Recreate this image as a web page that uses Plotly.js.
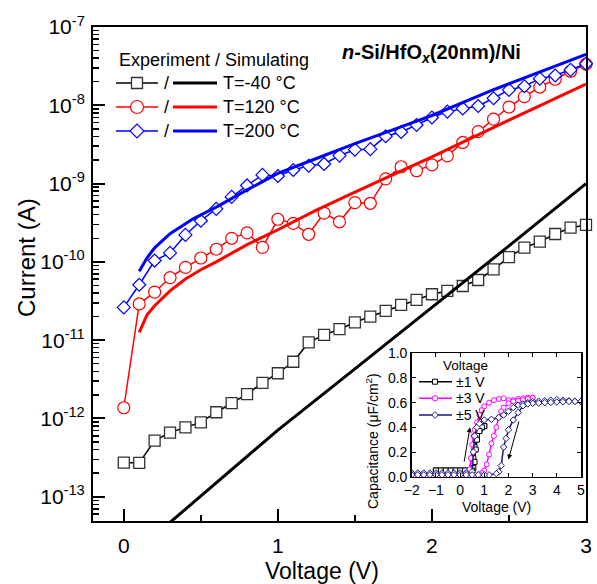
<!DOCTYPE html>
<html><head><meta charset="utf-8">
<script src="https://cdn.plot.ly/plotly-3.0.1.min.js"></script>
<style>html,body{margin:0;padding:0;background:#fff}#chart{width:597px;height:584px}</style>
</head><body><div id="chart"></div>
<script>
// ---------------- main chart data ----------------
const voltage = [0,0.1,0.2,0.3,0.4,0.5,0.6,0.7,0.8,0.9,1.0,1.1,1.2,1.3,1.4,1.5,1.6,1.7,1.8,1.9,2.0,2.1,2.2,2.3,2.4,2.5,2.6,2.7,2.8,2.9,3.0];
const expM40 = [2.73e-13,2.7e-13,5.2e-13,6.6e-13,7.7e-13,8.9e-13,1.2e-12,1.57e-12,2.05e-12,2.85e-12,3.78e-12,5.3e-12,9.35e-12,1.17e-11,1.38e-11,1.69e-11,2.0e-11,2.36e-11,2.82e-11,3.26e-11,3.86e-11,4.25e-11,4.92e-11,5.87e-11,8.04e-11,1.15e-10,1.52e-10,1.81e-10,2.27e-10,2.73e-10,2.96e-10];
const exp120 = [1.37e-12,2.9e-11,4.1e-11,6.3e-11,8.5e-11,1.12e-10,1.45e-10,2.0e-10,2.35e-10,1.53e-10,3.5e-10,3.1e-10,2.25e-10,4.2e-10,3.25e-10,5.7e-10,5.6e-10,1.15e-9,1.64e-9,1.46e-9,1.73e-9,2.26e-9,3.35e-9,4.6e-9,6.65e-9,9.5e-9,1.29e-8,1.71e-8,2.15e-8,2.72e-8,3.35e-8];
const exp200 = [2.62e-11,5.1e-11,1.04e-10,1.3e-10,2.21e-10,3.35e-10,4.76e-10,6.75e-10,9.46e-10,1.29e-9,1.25e-9,1.49e-9,1.69e-9,1.78e-9,2.28e-9,2.71e-9,2.75e-9,4.02e-9,4.56e-9,5.6e-9,6.98e-9,8.3e-9,9.1e-9,9.8e-9,1.23e-8,1.57e-8,1.75e-8,2.19e-8,2.4e-8,2.83e-8,3.39e-8];

const simM40V = [0.3,1.0,1.5,2.0,2.5,3.0];
const simM40I = [4.7e-14,7.1e-13,4.3e-12,2.6e-11,1.6e-10,1.0e-9];
const sim120V = [0.1,0.15,0.2,0.3,0.4,0.5,0.6,0.8,1.0,1.25,1.5,1.75,2.0,2.5,3.0];
const sim120I = [1.26e-11,2.09e-11,2.75e-11,4.27e-11,6.03e-11,7.94e-11,1.0e-10,1.66e-10,2.57e-10,4.57e-10,7.76e-10,1.29e-9,2.19e-9,6.46e-9,1.86e-8];
const sim200V = [0.1,0.15,0.2,0.3,0.45,0.6,0.8,1.0,1.25,1.5,1.75,2.0,2.4,2.7,3.0];
const sim200I = [7.59e-11,1.12e-10,1.51e-10,2.29e-10,3.55e-10,5.01e-10,8.3e-10,1.35e-9,2.09e-9,3.24e-9,4.9e-9,7.41e-9,1.58e-8,2.63e-8,4.47e-8];

const legendLabels = ['T=-40 °C','T=120 °C','T=200 °C'];
const xTickVals = [0,1,2,3];
const yTickText = ['10<sup>-13</sup>','10<sup>-12</sup>','10<sup>-11</sup>','10<sup>-10</sup>','10<sup>-9</sup>','10<sup>-8</sup>','10<sup>-7</sup>'];

// ---------------- inset data (C-V hysteresis) ----------------
const cv1V = [-1,-0.8,-0.6,-0.4,-0.2,0,0.2,0.4,0.5,0.55,0.6,0.65,0.7,0.8,0.9,1.0,1.0,0.9,0.8,0.7,0.65,0.6,0.55,0.5,0.4,0.2,0,-0.2,-0.4,-0.6,-0.8,-1];
const cv1C = [0.05,0.05,0.05,0.05,0.05,0.05,0.05,0.05,0.07,0.15,0.24,0.30,0.34,0.38,0.40,0.41,0.41,0.40,0.37,0.30,0.22,0.12,0.07,0.05,0.05,0.05,0.05,0.05,0.05,0.05,0.05,0.05];
const cv3V = [-2,-1.75,-1.5,-1.25,-1,-0.75,-0.5,-0.25,0,0.25,0.4,0.45,0.5,0.55,0.6,0.7,0.8,0.9,1.0,1.2,1.4,1.6,1.8,2.0,2.2,2.4,2.6,2.8,3.0,3.0,2.8,2.6,2.4,2.2,2.0,1.8,1.7,1.6,1.5,1.4,1.3,1.2,1.1,1.0,0.9,0.8,0.6,0.4,0.2,0,-0.25,-0.5,-0.75,-1,-1.25,-1.5,-1.75,-2];
const cv3C = [0.02,0.02,0.02,0.02,0.02,0.02,0.02,0.02,0.025,0.03,0.06,0.15,0.26,0.33,0.38,0.44,0.50,0.54,0.57,0.60,0.62,0.63,0.635,0.62,0.62,0.63,0.635,0.64,0.64,0.64,0.63,0.62,0.615,0.61,0.595,0.56,0.53,0.48,0.40,0.33,0.27,0.18,0.10,0.05,0.03,0.02,0.015,0.015,0.015,0.015,0.015,0.015,0.015,0.015,0.015,0.015,0.015,0.015];
const cv5V = [-2,-1.75,-1.5,-1.25,-1,-0.75,-0.5,-0.25,0,0.25,0.5,0.55,0.6,0.7,0.8,1.0,1.3,1.6,1.8,2.0,2.2,2.4,2.6,2.8,3.0,3.25,3.5,3.75,4.0,4.25,4.5,4.75,5.0,5.0,4.75,4.5,4.25,4.0,3.75,3.5,3.25,3.0,2.8,2.6,2.4,2.2,2.0,1.9,1.8,1.7,1.6,1.5,1.2,1.0,0.75,0.5,0.25,0,-0.25,-0.5,-0.75,-1,-1.25,-1.5,-1.75,-2];
const cv5C = [0.03,0.03,0.03,0.03,0.03,0.03,0.03,0.03,0.03,0.03,0.04,0.2,0.33,0.40,0.43,0.46,0.465,0.48,0.50,0.53,0.56,0.58,0.59,0.60,0.61,0.612,0.615,0.62,0.625,0.62,0.615,0.612,0.61,0.61,0.61,0.61,0.607,0.605,0.602,0.60,0.597,0.595,0.59,0.575,0.52,0.46,0.38,0.31,0.24,0.09,0.04,0.025,0.015,0.015,0.015,0.015,0.015,0.015,0.015,0.015,0.015,0.015,0.015,0.015,0.015,0.015];
const insetLabels = ['±1 V','±3 V','±5 V'];

// ---------------- layout helpers (pixel -> paper) ----------------
const L=93, R=586, T=27, B=521;
const fx = p => (p-L)/(R-L);
const fy = p => (B-p)/(B-T);
const FONT = 'Liberation Sans, Arial, sans-serif';
const BLUE='#0000ff', RED='#ff0000', BLACK='#000000';
const MAG='#ff00ff', NAVY='#1a1a80';

const traces = [
  {x:voltage, y:expM40, mode:'lines+markers', line:{color:BLACK,width:1.5},
   marker:{symbol:'square',size:11,color:'#fff',line:{color:'#333',width:1.3}}, cliponaxis:false},
  {x:voltage, y:exp120, mode:'lines+markers', line:{color:RED,width:1.5},
   marker:{symbol:'circle',size:12,color:'#fff',line:{color:RED,width:1.2}}, cliponaxis:false},
  {x:voltage, y:exp200, mode:'lines+markers', line:{color:BLUE,width:1.5},
   marker:{symbol:'diamond',size:10,color:'#fff',line:{color:BLUE,width:1.2}}, cliponaxis:false},
  {x:simM40V, y:simM40I, mode:'lines', line:{color:BLACK,width:3}},
  {x:sim120V, y:sim120I, mode:'lines', line:{color:RED,width:3}},
  {x:sim200V, y:sim200I, mode:'lines', line:{color:BLUE,width:3}},
  // inset
  {x:cv1V, y:cv1C, xaxis:'x2', yaxis:'y2', mode:'lines+markers', line:{color:BLACK,width:1.5},
   marker:{symbol:'square',size:5,color:'#fff',line:{color:BLACK,width:1}}},
  {x:cv3V, y:cv3C, xaxis:'x2', yaxis:'y2', mode:'lines+markers', line:{color:MAG,width:1.5},
   marker:{symbol:'circle',size:5,color:'#fff',line:{color:MAG,width:1}}},
  {x:cv5V, y:cv5C, xaxis:'x2', yaxis:'y2', mode:'lines+markers', line:{color:NAVY,width:1.5},
   marker:{symbol:'diamond',size:5,color:'#fff',line:{color:NAVY,width:1}}}
];

// minor ticks for log axis
const minorY = [];
for (let d=-14; d<=-8; d++) for (let k=2;k<=9;k++) minorY.push(k*Math.pow(10,d));
const majorY = [];
for (let d=-13; d<=-7; d++) majorY.push(Math.pow(10,d));

const shapes = [];
const annotations = [];

// main legend
const legColors=[BLACK,RED,BLUE];
const legY=[83,107,131];
annotations.push({xref:'paper',yref:'paper',x:fx(117),y:fy(60),xanchor:'left',yanchor:'middle',
  text:'Experiment / Simulating',showarrow:false,font:{family:FONT,size:18,color:'#000'}});
legY.forEach((py,i)=>{
  const c=legColors[i];
  shapes.push({type:'line',xref:'paper',yref:'paper',x0:fx(116),x1:fx(158),y0:fy(py),y1:fy(py),line:{color:c,width:1.5}});
  const mx=137;
  if(i===0) shapes.push({type:'rect',xref:'paper',yref:'paper',x0:fx(mx-5.5),x1:fx(mx+5.5),y0:fy(py+5.5),y1:fy(py-5.5),fillcolor:'#fff',line:{color:'#333',width:1.3}});
  if(i===1) shapes.push({type:'circle',xref:'paper',yref:'paper',x0:fx(mx-6.5),x1:fx(mx+6.5),y0:fy(py+6.5),y1:fy(py-6.5),fillcolor:'#fff',line:{color:c,width:1.2}});
  if(i===2) shapes.push({type:'path',xref:'paper',yref:'paper',
    path:`M ${fx(mx-7)} ${fy(py)} L ${fx(mx)} ${fy(py-7)} L ${fx(mx+7)} ${fy(py)} L ${fx(mx)} ${fy(py+7)} Z`,
    fillcolor:'#fff',line:{color:c,width:1.2}});
  annotations.push({xref:'paper',yref:'paper',x:fx(166),y:fy(py),xanchor:'center',yanchor:'middle',text:'/',showarrow:false,font:{family:FONT,size:18,color:'#000'}});
  shapes.push({type:'line',xref:'paper',yref:'paper',x0:fx(173),x1:fx(217),y0:fy(py),y1:fy(py),line:{color:c,width:3}});
  annotations.push({xref:'paper',yref:'paper',x:fx(221),y:fy(py),xanchor:'left',yanchor:'middle',text:legendLabels[i],showarrow:false,font:{family:FONT,size:18,color:'#000'}});
});
// title
annotations.push({xref:'paper',yref:'paper',x:fx(431),y:fy(53),xanchor:'center',yanchor:'middle',
  text:'<b><i>n</i>-Si/HfO<sub><i>x</i></sub>(20nm)/Ni</b>',showarrow:false,font:{family:FONT,size:20,color:'#000'}});
// axis titles
annotations.push({xref:'paper',yref:'paper',x:fx(26),y:fy(258),xanchor:'center',yanchor:'middle',textangle:-90,
  text:'Current (A)',showarrow:false,font:{family:FONT,size:24,color:'#000'}});
annotations.push({xref:'paper',yref:'paper',x:fx(322),y:fy(571),xanchor:'center',yanchor:'middle',
  text:'Voltage (V)',showarrow:false,font:{family:FONT,size:23,color:'#000'}});

// inset legend
const insColors=[BLACK,MAG,NAVY];
const insY=[381.7,398.3,415];
annotations.push({xref:'paper',yref:'paper',x:fx(465.5),y:fy(365),xanchor:'center',yanchor:'middle',
  text:'Voltage',showarrow:false,font:{family:FONT,size:13.5,color:'#000'}});
insY.forEach((py,i)=>{
  const c=insColors[i]; const mx=435;
  shapes.push({type:'line',xref:'paper',yref:'paper',x0:fx(419),x1:fx(452),y0:fy(py),y1:fy(py),line:{color:c,width:1.5}});
  if(i===0) shapes.push({type:'rect',xref:'paper',yref:'paper',x0:fx(mx-2.5),x1:fx(mx+2.5),y0:fy(py+2.5),y1:fy(py-2.5),fillcolor:'#fff',line:{color:c,width:1}});
  if(i===1) shapes.push({type:'circle',xref:'paper',yref:'paper',x0:fx(mx-2.7),x1:fx(mx+2.7),y0:fy(py+2.7),y1:fy(py-2.7),fillcolor:'#fff',line:{color:c,width:1}});
  if(i===2) shapes.push({type:'path',xref:'paper',yref:'paper',
    path:`M ${fx(mx-3.3)} ${fy(py)} L ${fx(mx)} ${fy(py-3.3)} L ${fx(mx+3.3)} ${fy(py)} L ${fx(mx)} ${fy(py+3.3)} Z`,
    fillcolor:'#fff',line:{color:c,width:1}});
  annotations.push({xref:'paper',yref:'paper',x:fx(454),y:fy(py),xanchor:'left',yanchor:'middle',text:insetLabels[i],showarrow:false,font:{family:FONT,size:14,color:'#000'}});
});
// inset axis titles
annotations.push({xref:'paper',yref:'paper',x:fx(372),y:fy(441),xanchor:'center',yanchor:'middle',textangle:-90,
  text:'Capacitance (μF/cm<sup>2</sup>)',showarrow:false,font:{family:FONT,size:14,color:'#000'}});
annotations.push({xref:'paper',yref:'paper',x:fx(496.5),y:fy(507),xanchor:'center',yanchor:'middle',
  text:'Voltage (V)',showarrow:false,font:{family:FONT,size:14,color:'#000'}});
// inset arrows
annotations.push({xref:'x2',yref:'y2',axref:'x2',ayref:'y2',x:0.41,y:0.40,ax:0.16,ay:0.11,text:'',showarrow:true,arrowhead:2,arrowsize:1,arrowwidth:1,arrowcolor:'#000'});
annotations.push({xref:'x2',yref:'y2',axref:'x2',ayref:'y2',x:2.0,y:0.14,ax:2.45,ay:0.46,text:'',showarrow:true,arrowhead:2,arrowsize:1,arrowwidth:1,arrowcolor:'#000'});

const layout = {
  width:597, height:584,
  margin:{l:L, r:597-R, t:T, b:584-B, pad:0},
  paper_bgcolor:'#fff', plot_bgcolor:'#fff',
  showlegend:false,
  font:{family:FONT, color:'#000'},
  xaxis:{range:[-0.2,3], tickvals:xTickVals, ticks:'inside', ticklen:12, tickwidth:2, tickcolor:'#000',
    showline:true, linewidth:2, linecolor:'#000', mirror:true, showgrid:false, zeroline:false,
    tickfont:{family:FONT,size:21,color:'#000'}, ticklabelstandoff:5,
    minor:{tickvals:[0.5,1.5,2.5], ticks:'inside', ticklen:6, tickwidth:2, tickcolor:'#000', showgrid:false}},
  xaxis3:{range:[-0.2,3], overlaying:'x', side:'top', anchor:'y', tickvals:[0,0.5,1,1.5,2,2.5], ticks:'inside', ticklen:5, tickwidth:1.5,
    tickcolor:'#000', showticklabels:false, showline:false, showgrid:false, zeroline:false},
  yaxis:{type:'log', range:[-13.31,-7], tickvals:majorY, ticktext:yTickText, ticks:'inside', ticklen:12, tickwidth:2, tickcolor:'#000',
    showline:true, linewidth:2, linecolor:'#000', mirror:true, showgrid:false, zeroline:false,
    tickfont:{family:FONT,size:21,color:'#000'}, ticklabelstandoff:2,
    minor:{tickvals:minorY, ticks:'inside', ticklen:6, tickwidth:1.5, tickcolor:'#000', showgrid:false}},
  xaxis2:{domain:[fx(411.7),fx(581)], anchor:'y2', range:[-2,5], tickvals:[-2,-1,0,1,2,3,4,5], ticks:'inside', ticklen:4, tickwidth:1,
    tickcolor:'#000', showline:true, linewidth:1.5, linecolor:'#000', mirror:'ticks', showgrid:false, zeroline:false,
    tickfont:{family:FONT,size:14,color:'#000'}},
  yaxis2:{domain:[fy(476.7),fy(353.3)], anchor:'x2', range:[0,1], tickvals:[0,0.2,0.4,0.6,0.8,1.0], tickformat:'.1f', ticks:'inside', ticklen:4, tickwidth:1,
    tickcolor:'#000', showline:true, linewidth:1.5, linecolor:'#000', mirror:'ticks', showgrid:false, zeroline:false,
    tickfont:{family:FONT,size:14,color:'#000'}},
  shapes:shapes,
  annotations:annotations
};

Plotly.newPlot('chart', traces, layout, {displayModeBar:false, staticPlot:true});
</script>
</body></html>
